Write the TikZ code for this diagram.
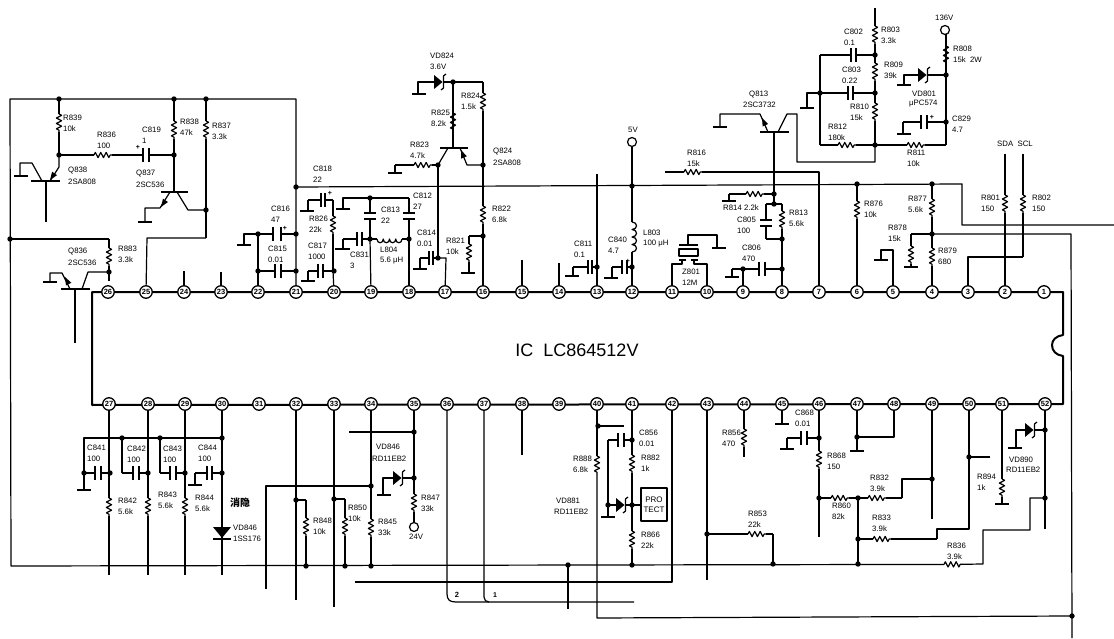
\documentclass[tikz,border=0pt]{standalone}
\usepackage{fontspec}
\setmainfont{Liberation Sans}
\newfontfamily\cjkf{Noto Sans CJK SC}
\usetikzlibrary{decorations.pathmorphing}
\tikzset{
  wire/.style={line width=1.2pt,line join=round},
  zz/.style={wire,decorate,decoration={zigzag,segment length=5.4pt,amplitude=2.6pt}},
  icbox/.style={line width=2pt,line join=round},
  pinnode/.style={circle,draw,line width=1.3pt,fill=white,minimum size=12.5pt,inner sep=0pt,font=\fontsize{7.5}{8}\selectfont\bfseries},
  term/.style={circle,draw,line width=1.2pt,fill=white,minimum size=9pt,inner sep=0pt},
  lab/.style={anchor=west,inner sep=0pt,font=\fontsize{7.8}{9}\selectfont},
  plusmark/.style={inner sep=0pt,font=\fontsize{7}{8}\selectfont\bfseries}
}
% dot
\newcommand\Dt[2]{\fill (#1,#2) circle[radius=2.7pt];}
% ground bar
\newcommand\Gb[2]{\draw[wire] ({#1-7},#2)--({#1+7},#2);}
% vertical resistor x y1 y2 yc
\newcommand\RV[4]{\draw[wire] (#1,#2)--(#1,{#4-9}); \draw[zz] (#1,{#4-9})--(#1,{#4+9}); \draw[wire] (#1,{#4+9})--(#1,#3);}
% horizontal resistor y x1 x2 xc
\newcommand\RH[4]{\draw[wire] (#2,#1)--({#4-9},#1); \draw[zz] ({#4-9},#1)--({#4+9},#1); \draw[wire] ({#4+9},#1)--(#3,#1);}
% horizontal cap y x1 x2 xa xb
\newcommand\CH[5]{\draw[wire] (#2,#1)--(#4,#1) (#5,#1)--(#3,#1); \draw[wire] (#4,{#1-7})--(#4,{#1+7}) (#5,{#1-7})--(#5,{#1+7});}
% vertical cap x y1 y2 ya yb
\newcommand\CV[5]{\draw[wire] (#1,#2)--(#1,#4) (#1,#5)--(#1,#3); \draw[wire] ({#1-6},#4)--({#1+6},#4) ({#1-6},#5)--({#1+6},#5);}
% zener pointing right: x=triangle left, y
\newcommand\ZR[2]{\fill (#1,{#2-7})--(#1,{#2+7})--({#1+8.5},#2)--cycle; \draw[wire] ({#1+12},{#2-8})--({#1+9.5},{#2-6})--({#1+9.5},{#2+6})--({#1+7},{#2+8});}
% arrow head x y screen-angle
\newcommand\Ah[3]{\fill[shift={(#1,#2)},rotate=#3] (0pt,0pt)--(-8pt,3pt)--(-8pt,-3pt)--cycle;}
% horizontal coil
\newcommand\LH[3]{\draw[wire] (#2,#1) \foreach \k in {0,...,3}{ .. controls ({#2+\k*#3},{#1+5}) and ({#2+(\k+1)*#3},{#1+5}) .. ({#2+(\k+1)*#3},#1)};}
% vertical coil
\newcommand\LV[3]{\draw[wire] (#1,#2) \foreach \k in {0,...,3}{ .. controls ({#1+6},{#2+\k*#3}) and ({#1+6},{#2+(\k+1)*#3}) .. (#1,{#2+(\k+1)*#3})};}
\newcommand\Lb[4]{\node[lab] at (#1,#2) {#3}; \node[lab] at (#1,{#2+10.5}) {#4};}
\newcommand\La[3]{\node[lab] at (#1,#2) {#3};}
\newcommand\Pm[2]{\node[plusmark] at (#1,#2) {+};}
\begin{document}
\begin{tikzpicture}[x=1pt,y=-1pt]
\useasboundingbox (0,0) rectangle (1114,639);
\fill[white] (0,0) rectangle (1114,639);
% ---------- IC body ----------
\draw[icbox] (92,292)--(1063,292)--(1063,335) .. controls (1056,336) and (1052,340) .. (1052,345) .. controls (1052,351) and (1056,355) .. (1063,356) --(1063,404)--(92,405)--cycle;
\node[inner sep=0pt,font=\fontsize{18}{20}\selectfont] (ictext) at (577,350) {IC\ \ LC864512V};
\foreach \n/\x in {26/108,25/146,24/184,23/221,22/258,21/296,20/334,19/371,18/409,17/445,16/483,15/522,14/559,13/597,12/632,11/672,10/707,9/743,8/782,7/819,6/857,5/893,4/932,3/968,2/1005,1/1044}
  \node[pinnode] (p\n) at (\x,292) {\n};
\foreach \n/\x in {27/109,28/148,29/185,30/222,31/259,32/296,33/334,34/371,35/414,36/447,37/484,38/522,39/559,40/597,41/632,42/672,43/707,44/744,45/782,46/819,47/857,48/894,49/932,50/969,51/1002,52/1045}
  \node[pinnode] (p\n) at (\x,404) {\n};
\node[term] (v5) at (632,142) {};
\node[term] (v136) at (945,30) {};
\node[term] (v24) at (414,527) {};
% ---------- long wires ----------
\coordinate (tl) at (10,99);
\draw[wire] (p21)--(296,99)--(tl)--(11,566)--(944,564.4);
\draw[zz] (944,564.4)--(962,564.3);
\draw[wire] (962,564.3)--(983,564)--(983,530)--(1030,530)--(1030,498)--(1045,498);
\draw[wire] (296,187)--(962,184)--(962,225)--(1114,225);
\draw[wire] (932,234)--(1071,234)--(1072,638);
\draw[wire] (p40)--(597,456);
\draw[zz] (597,456)--(597,474);
\draw[wire] (597,474)--(597,618)--(1072,616);
\Dt{1072}{616}
% ---------- Q838 etc ----------
\Dt{59}{99}\Dt{174}{99}\Dt{206}{99}\Dt{59}{155}\Dt{174}{155}
\RV{59}{99}{155}{123}
\RH{155}{59}{143}{103}
\CH{155}{143}{174}{143}{149}
\Pm{138}{147}
\draw[wire] (31,181)--(60,181) (46,181)--(46,222);
\draw[wire] (42,181)--(32,163)--(20,163)--(20,176); \Gb{21}{176}
\draw[wire] (50,181)--(59,167)--(59,155); \Ah{50}{180}{235}
\RV{174}{99}{192}{130}
\draw[wire] (161,192)--(188,192);
\draw[wire] (170,192)--(160,208)--(145,208)--(145,222); \Gb{145}{222} \Ah{161}{207}{236}
\draw[wire] (177,192)--(188,210)--(206,210); \Dt{206}{210}
\RV{206}{99}{238}{130}
\draw[wire] (206,238)--(147,238)--(p25);
% Q836
\Dt{10}{239}\Dt{109}{272}
\draw[wire] (10,239)--(109,239);
\RV{109}{239}{281}{257}
\draw[wire] (61,289)--(90,289) (75,289)--(75,343);
\draw[wire] (82,289)--(88,272)--(109,272);
\draw[wire] (70,289)--(62,273)--(50,273)--(50,282); \Gb{50}{282} \Ah{65}{277}{117}
\draw[wire] (p24)--(184,271);
\draw[wire] (p23)--(221,272);
% C816 C815
\Dt{258}{234}\Dt{258}{271}\Dt{296}{234}\Dt{296}{271}\Dt{296}{187}
\draw[wire] (p22)--(258,234);
\CH{234}{258}{296}{273}{281}
\draw[wire] (258,234)--(244,234)--(244,245); \Gb{244}{245}
\Pm{285}{228}
\CH{271}{258}{296}{275}{281}
% C818 R826 C817
\CH{200}{308}{333}{321}{325}
\draw[wire] (308,200)--(308,211); \Gb{307}{211}
\Pm{330}{193}
\RV{333}{200}{271}{225}
\draw[wire] (333,271)--(p20);
\Dt{334}{271}
\CH{271}{308}{334}{318}{323}
\draw[wire] (308,271)--(308,281); \Gb{308}{281}
\draw[wire] (335,249)--(350,249) (343,249)--(343,239);
\CH{239}{343}{370}{357}{362}
% C813 C812 L804
\draw[wire] (343,209)--(343,198)--(409,198); \Gb{343}{209}
\Dt{370}{198}\Dt{370}{239}\Dt{409}{239}
\CV{370}{198}{239}{213}{219}
\CV{409}{198}{239}{213}{219}
\draw[wire] (370,239)--(p19);
\draw[wire] (409,239)--(p18);
\draw[wire] (370,239)--(377,239) (402,239)--(409,239);
\LH{239}{377}{6.25}
% C814, Q824
\Dt{438}{258}
\CH{258}{420}{438}{429}{433}
\draw[wire] (420,258)--(420,268); \Gb{420}{269}
\draw[wire] (438,258)--(446,258)--(p17);
\draw[wire] (438,258)--(438,165);
\Dt{438}{165}
\RH{165}{395}{438}{423}
\draw[wire] (395,165)--(395,173); \Gb{395}{173}
\draw[wire] (440,148)--(468,148);
\draw[wire] (448,148)--(438,165);
\draw[wire] (460,148)--(467,165)--(483,165); \Ah{461}{150}{112}
\Dt{483}{165}
\RV{453}{148}{82}{122}
\Dt{453}{82}
\draw[wire] (418,94)--(418,82)--(435,82); \Gb{419}{94}
\ZR{434}{82}
\draw[wire] (444,82)--(483,82);
\RV{483}{82}{165}{102}
\RV{483}{165}{236}{215}
\Dt{483}{236}
\draw[wire] (483,236)--(p16);
\draw[wire] (483,236)--(469,236);
\RV{469}{236}{273}{253}
\Gb{468}{273}
\draw[wire] (p15)--(522,260);
\draw[wire] (p14)--(559,263);
% C811, C840, L803
\draw[wire] (p13)--(597,174);
\Dt{597}{267}
\CH{267}{573}{597}{588}{592}
\draw[wire] (573,267)--(573,276); \Gb{572}{276}
\draw[wire] (v5)--(632,222);
\LV{632}{222}{7.5}
\draw[wire] (632,252)--(p12);
\Dt{632}{186}\Dt{632}{267}
\CH{267}{612}{632}{622}{627}
\draw[wire] (612,267)--(612,278); \Gb{611}{278}
\Pm{628}{261}
% crystal
\draw[wire] (679,245)--(698,245);
\draw[wire] (679,249) rectangle (698,256);
\draw[wire] (688,245)--(688,235)--(717,235)--(717,248); \Gb{719}{248}
\draw[wire] (679,260)--(686,260) (691,260)--(698,260);
\draw[wire] (p11)--(672,264)--(682,264)--(682,260);
\draw[wire] (p10)--(707,264)--(694,264)--(694,260);
% C806 R813 etc
\Dt{743}{269}
\draw[wire] (p9)--(743,269);
\CH{269}{732}{782}{759}{765}
\draw[wire] (732,269)--(732,277); \Gb{732}{277}
\Dt{782}{269}\Dt{782}{239}\Dt{774}{204}\Dt{774}{194}
\draw[wire] (782,239)--(p8);
\draw[wire] (774,204)--(782,204);
\RV{782}{204}{239}{220}
\CV{766}{204}{239}{220}{226}
\draw[wire] (766,204)--(774,204) (766,239)--(782,239);
\RH{194}{729}{774}{755}
\draw[wire] (729,194)--(729,201); \Gb{729}{201}
% Q813
\draw[wire] (774,204)--(774,132);
\draw[wire] (760,132)--(789,132);
\draw[wire] (768,132)--(760,114)--(720,114)--(720,126); \Gb{720}{127} \Ah{762}{118}{115}
\draw[wire] (778,132)--(787,114)--(797,114)--(797,162)--(875,162)--(875,145);
% R816 to pin 7
\draw[wire] (665,172)--({693-9},172);
\draw[zz] ({693-9},172)--({693+9},172);
\draw[wire] ({693+9},172)--(819,172)--(p7);
% top right network
\RV{875}{8}{55}{35}
\RV{875}{55}{93}{72}
\RV{875}{93}{145}{112}
\Dt{875}{55}\Dt{875}{93}\Dt{875}{145}\Dt{820}{93}
\CH{55}{820}{875}{851}{856}
\CH{93}{820}{875}{848}{853}
\draw[wire] (820,55)--(820,145);
\RH{145}{820}{875}{847}
\draw[wire] (820,93)--(807,93)--(807,108); \Gb{807}{108}
\RH{145}{875}{946}{916}
\draw[wire] (946,145)--(946,73);
\RV{946}{75}{34.5}{55}
\Dt{946}{75}\Dt{946}{122}
\CH{122}{903}{946}{921}{927}
\draw[wire] (903,122)--(903,134); \Gb{904}{134}
\Pm{932}{117}
\draw[wire] (904,85)--(904,75)--(918,75) (928,75)--(946,75); \Gb{904}{85}
\ZR{918}{75}
% right side resistors
\Dt{857}{184}\Dt{932}{184}\Dt{932}{234}
\draw[wire] (857,184)--(857,201);
\draw[zz] (857,201)--(857,219);
\draw[wire] (857,219)--(p6);
\RV{932}{184}{234}{208}
\draw[wire] (932,234)--(932,248);
\draw[zz] (932,248)--(932,266);
\draw[wire] (932,266)--(p4);
\draw[wire] (932,234)--(911,234);
\RV{911}{234}{267}{255}
\Gb{911}{267}
\draw[wire] (p5)--(893,250)--(881,250)--(881,260); \Gb{881}{260}
\draw[wire] (p3)--(968,257)--(1023,257);
\RV{1023}{154}{257}{204}
\draw[wire] (1005,154)--(1005,195);
\draw[zz] (1005,195)--(1005,213);
\draw[wire] (1005,213)--(p2);
% ---------- bottom left ----------
\draw[wire] (84,473)--(84,438)--(222,438);
\Dt{122}{438}\Dt{160}{438}\Dt{222}{438}
\Dt{84}{473}\Dt{110}{473}\Dt{148}{473}\Dt{185}{473}\Dt{222}{473}
\draw[wire] (p27)--(109,498); \draw[zz] (109,498)--(109,516); \draw[wire] (109,516)--(109,575);
\draw[wire] (p28)--(148,498); \draw[zz] (148,498)--(148,516); \draw[wire] (148,516)--(148,575);
\draw[wire] (p29)--(185,498); \draw[zz] (185,498)--(185,516); \draw[wire] (185,516)--(185,575);
\draw[wire] (p30)--(222,575);
\fill (213,527)--(231,527)--(222,538)--cycle;
\draw[wire] (213,539)--(231,539);
\CH{473}{84}{110}{95}{101}
\draw[wire] (84,473)--(84,490); \Gb{84}{490}
\draw[wire] (122,438)--(122,473);
\CH{473}{122}{148}{133}{139}
\draw[wire] (160,438)--(160,473);
\CH{473}{160}{185}{170}{176}
\CH{473}{195}{222}{207}{212}
\draw[wire] (195,473)--(195,484); \Gb{195}{485}
% 32..35
\draw[wire] (p32)--(296,600);
\Dt{296}{500}
\draw[wire] (296,500)--(306,500);
\RV{306}{500}{566}{527}
\Dt{306}{566}
\draw[wire] (p33)--(334,607);
\Dt{334}{499}
\draw[wire] (334,499)--(345,499);
\RV{345}{499}{566}{527}
\Dt{345}{566}
\draw[wire] (p34)--(371,519);
\draw[zz] (371,519)--(371,537);
\draw[wire] (371,537)--(371,566);
\Dt{371}{486}\Dt{371}{566}
\draw[wire] (371,486)--(266,486)--(266,589);
\draw[wire] (p35)--(414,494);
\draw[zz] (414,494)--(414,512);
\draw[wire] (414,512)--(v24);
\Dt{414}{432}\Dt{414}{478}
\draw[wire] (414,432)--(349,432);
\draw[wire] (383,495)--(383,478)--(393,478) (403,478)--(414,478); \Gb{384}{495}
\ZR{393}{478}
% ---------- bottom middle ----------
\draw[wire] (355,582)--(672,582)--(p42);
\draw[wire] (p36)--(447,594) .. controls (447,600) and (450,602) .. (456,602)--(634,602);
\draw[wire] (p37)--(484,597) .. controls (484,600) and (486,602) .. (489,602);
\draw[wire] (p38)--(522,455);
\Dt{568}{565}
\draw[wire] (568,565)--(568,609);
\Dt{598}{426}
\draw[wire] (598,426)--(624,426);
\draw[wire] (p41)--(632,455); \draw[zz] (632,455)--(632,473); \draw[wire] (632,473)--(632,531); \draw[zz] (632,531)--(632,549); \draw[wire] (632,549)--(632,565);
\Dt{632}{440}\Dt{632}{505}\Dt{632}{565}
\CH{440}{608}{632}{618}{624}
\draw[wire] (608,440)--(608,517); \Gb{608}{517}
\Dt{608}{505}
\draw[wire] (608,505)--(616,505) (626,505)--(641,505);
\ZR{616}{505}
\draw[wire] (641,488) rectangle (667,521);
\node[inner sep=0pt,align=center,font=\fontsize{8}{10}\selectfont] (prot) at (654,505) {PRO\\TECT};
\draw[wire] (p43)--(707,580);
\Dt{707}{534}
\RH{534}{707}{773}{757}
\draw[wire] (773,534)--(773,564);
\Dt{773}{564}
\draw[wire] (p44)--(744,429); \draw[zz] (744,429)--(744,447); \draw[wire] (744,447)--(744,457);
\draw[wire] (p45)--(782,424); \Gb{782}{424}
% ---------- bottom right ----------
\draw[wire] (p46)--(819,451); \draw[zz] (819,451)--(819,469); \draw[wire] (819,469)--(819,537);
\Dt{819}{438}\Dt{819}{498}
\CH{438}{787}{819}{801}{807}
\draw[wire] (787,438)--(787,448); \Gb{787}{449}
\draw[wire] (p47)--(857,451); \Gb{857}{451}
\Dt{857}{437}
\draw[wire] (857,437)--(894,437)--(p48);
\RH{498}{819}{858}{840}
\RH{498}{858}{902}{877}
\Dt{858}{498}
\draw[wire] (902,498)--(902,479)--(932,479);
\Dt{932}{479}
\draw[wire] (p49)--(932,519);
\draw[wire] (858,498)--(858,564);
\Dt{858}{539}\Dt{858}{564}
\RH{539}{858}{937}{882}
\draw[wire] (937,539)--(937,529)--(969,529)--(p50);
\Dt{969}{457}
\draw[wire] (969,457)--(990,457);
\draw[wire] (p51)--(1002,479); \draw[zz] (1002,479)--(1002,497); \draw[wire] (1002,497)--(1002,504); \Gb{1002}{504}
\draw[wire] (p52)--(1045,529);
\Dt{1045}{430}\Dt{1045}{498}
\draw[wire] (1016,448)--(1016,430)--(1025,430) (1035,430)--(1045,430); \Gb{1015}{448}
\ZR{1025}{430}
% ---------- labels ----------
\Lb{63}{118}{R839}{10k}
\Lb{97}{135}{R836}{100}
\Lb{142}{130}{C819}{1}
\Lb{180}{122}{R838}{47k}
\Lb{212}{126}{R837}{3.3k}
\Lb{68}{171}{Q838}{2SA808}
\Lb{136}{174}{Q837}{2SC536}
\Lb{68}{252}{Q836}{2SC536}
\Lb{118}{249}{R883}{3.3k}
\Lb{271}{209}{C816}{47}
\Lb{268}{249}{C815}{0.01}
\Lb{313}{169}{C818}{22}
\Lb{309}{219}{R826}{22k}
\Lb{308}{246}{C817}{1000}
\Lb{350}{255}{C831}{3}
\Lb{381}{210}{C813}{22}
\Lb{413}{196}{C812}{27}
\Lb{380}{250}{L804}{5.6 μH}
\Lb{417}{233}{C814}{0.01}
\Lb{446}{241}{R821}{10k}
\Lb{492}{209}{R822}{6.8k}
\Lb{410}{145}{R823}{4.7k}
\Lb{431}{113}{R825}{8.2k}
\Lb{461}{96}{R824}{1.5k}
\Lb{430}{56}{VD824}{3.6V}
\Lb{493}{152}{Q824}{2SA808}
\La{628}{130}{5V}
\Lb{687}{153}{R816}{15k}
\Lb{574}{244}{C811}{0.1}
\Lb{608}{240}{C840}{4.7}
\Lb{643}{233}{L803}{100 μH}
\Lb{682}{272}{Z801}{12M}
\La{723}{208}{R814 2.2k}
\Lb{789}{213}{R813}{5.6k}
\Lb{737}{220}{C805}{100}
\Lb{742}{248}{C806}{470}
\La{749}{95}{Q813}
\La{743}{105}{2SC3732}
\Lb{844}{32}{C802}{0.1}
\Lb{842}{70}{C803}{0.22}
\Lb{881}{30}{R803}{3.3k}
\Lb{884}{65}{R809}{39k}
\Lb{850}{107}{R810}{15k}
\Lb{828}{127}{R812}{180k}
\Lb{907}{153}{R811}{10k}
\Lb{953}{49}{R808}{15k\ \ 2W}
\La{912}{94}{VD801}
\La{909}{104}{μPC574}
\Lb{952}{119}{C829}{4.7}
\La{935}{18}{136V}
\La{997}{144}{SDA\ \ SCL}
\Lb{981}{198}{R801}{150}
\Lb{1032}{198}{R802}{150}
\Lb{864}{204}{R876}{10k}
\Lb{908}{199}{R877}{5.6k}
\Lb{888}{228}{R878}{15k}
\Lb{938}{251}{R879}{680}
\Lb{87}{448}{C841}{100}
\Lb{127}{449}{C842}{100}
\Lb{163}{449}{C843}{100}
\Lb{198}{448}{C844}{100}
\Lb{118}{501}{R842}{5.6k}
\Lb{158}{495}{R843}{5.6k}
\Lb{195}{498}{R844}{5.6k}
\node[lab,font=\fontsize{10}{12}\selectfont\cjkf\bfseries] (blank) at (230,503) {消隐};
\Lb{233}{528}{VD846}{1SS176}
\La{376}{447}{VD846}
\La{372}{459}{RD11EB2}
\Lb{313}{521}{R848}{10k}
\Lb{348}{508}{R850}{10k}
\Lb{378}{522}{R845}{33k}
\Lb{421}{498}{R847}{33k}
\La{409}{537}{24V}
\Lb{639}{433}{C856}{0.01}
\Lb{641}{458}{R882}{1k}
\Lb{573}{459}{R888}{6.8k}
\La{556}{501}{VD881}
\La{554}{512}{RD11EB2}
\Lb{641}{535}{R866}{22k}
\Lb{722}{433}{R856}{470}
\Lb{748}{514}{R853}{22k}
\Lb{795}{413}{C868}{0.01}
\Lb{827}{456}{R868}{150}
\Lb{870}{478}{R832}{3.9k}
\Lb{832}{506}{R860}{82k}
\Lb{872}{518}{R833}{3.9k}
\Lb{947}{546}{R836}{3.9k}
\Lb{977}{477}{R894}{1k}
\La{1009}{460}{VD890}
\La{1006}{470}{RD11EB2}
\node[plusmark,font=\fontsize{7.5}{9}\selectfont\bfseries] (n2) at (457,595) {2};
\node[plusmark,font=\fontsize{7}{9}\selectfont\bfseries] (n1) at (495,595) {1};
\end{tikzpicture}
\end{document}
